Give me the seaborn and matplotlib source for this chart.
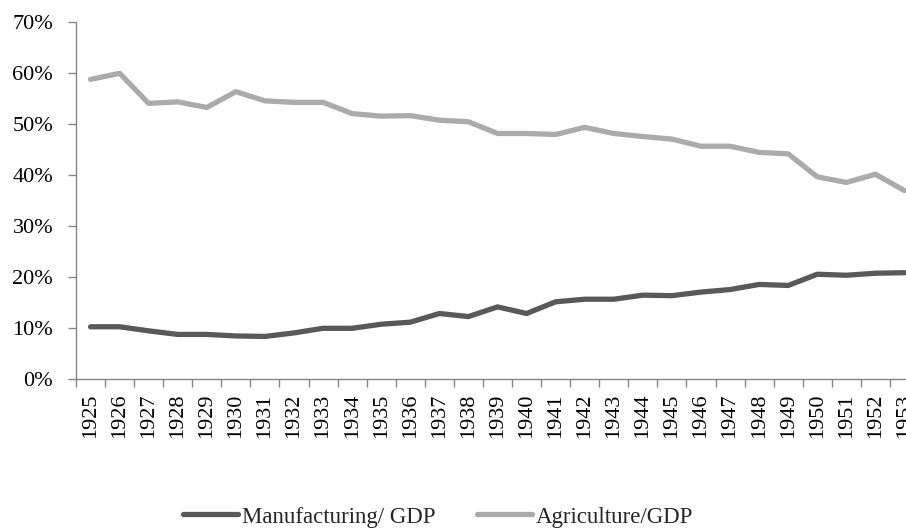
import matplotlib
matplotlib.use("Agg")
import matplotlib.pyplot as plt
import matplotlib.ticker as mticker
import seaborn as sns
import pandas as pd

years = list(range(1925, 1954))
manufacturing = [10.3, 10.3, 9.5, 8.8, 8.8, 8.5, 8.4, 9.1, 10.0, 10.0,
                 10.8, 11.2, 12.9, 12.3, 14.2, 12.9, 15.2, 15.7, 15.7, 16.5,
                 16.4, 17.1, 17.6, 18.6, 18.4, 20.6, 20.4, 20.8, 20.9]
agriculture = [58.8, 60.0, 54.1, 54.4, 53.3, 56.4, 54.6, 54.3, 54.3, 52.1,
               51.6, 51.7, 50.8, 50.5, 48.2, 48.2, 48.0, 49.4, 48.2, 47.6,
               47.1, 45.7, 45.7, 44.5, 44.2, 39.7, 38.6, 40.2, 37.0]
series_names = ["Manufacturing/ GDP", "Agriculture/GDP"]
palette = {"Manufacturing/ GDP": "#595959", "Agriculture/GDP": "#ababab"}

df = pd.concat([
    pd.DataFrame({"year": years, "share": manufacturing, "series": series_names[0]}),
    pd.DataFrame({"year": years, "share": agriculture, "series": series_names[1]}),
])

sns.set_theme(style="white")
plt.rcParams["font.family"] = ["Liberation Serif", "DejaVu Serif"]

W, H = 906, 531
fig = plt.figure(figsize=(W / 100, H / 100), dpi=100)
left, right = 76, 76 + 29 * 29.07
top, bottom = 22.3, 379.3
ax = fig.add_axes([left / W, 1 - bottom / H, (right - left) / W, (bottom - top) / H])

sns.lineplot(data=df, x="year", y="share", hue="series", palette=palette,
             hue_order=series_names, linewidth=3.8, ax=ax, legend=False,
             solid_joinstyle="round", solid_capstyle="round")

ax.set_xlim(years[0] - 0.5, years[-1] + 0.5)
ax.set_ylim(0, 70)
ax.yaxis.set_major_locator(mticker.MultipleLocator(10))
ax.yaxis.set_major_formatter(mticker.FuncFormatter(lambda v, p: f"{v:.0f}%"))
ax.set_xticks(years)
ax.set_xticklabels([str(y) for y in years], rotation=90)
ax.set_xticks([y - 0.5 for y in years] + [years[-1] + 0.5], minor=True)
ax.set_xlabel("")
ax.set_ylabel("")

axis_color = "#868686"
for s in ["top", "right"]:
    ax.spines[s].set_visible(False)
for s in ["left", "bottom"]:
    ax.spines[s].set_color(axis_color)
    ax.spines[s].set_linewidth(1.0)
ax.tick_params(axis="x", which="major", length=0, pad=10.5, labelsize=16, labelcolor="black")
ax.tick_params(axis="x", which="minor", length=5.5, width=1, color=axis_color, direction="out", bottom=True)
ax.tick_params(axis="y", which="major", length=5.5, width=1, color=axis_color, direction="out",
               left=True, pad=11, labelsize=16, labelcolor="black")
ax.grid(False)

handles = [plt.Line2D([], [], color=palette[n], linewidth=3.8) for n in series_names]
fig.legend(handles, series_names, loc="center left", bbox_to_anchor=(183 / W, 1 - 517 / H),
           ncol=2, frameon=False, fontsize=16.5, handlelength=2.4, handletextpad=0.18,
           columnspacing=1.8, borderpad=0, borderaxespad=0)

fig.savefig("out.png", dpi=100)
